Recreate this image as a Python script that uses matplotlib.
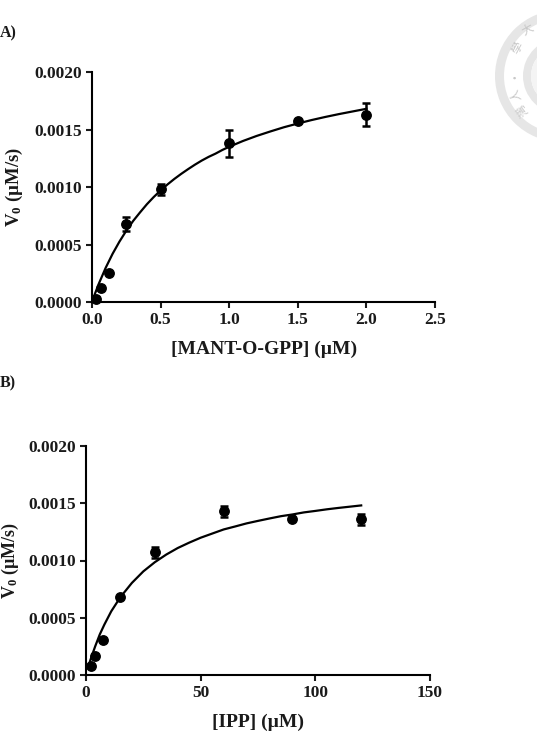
import matplotlib
matplotlib.use("Agg")
import matplotlib.pyplot as plt
from matplotlib.patches import Circle, Wedge

W, H = 537, 756
SERIF = "Liberation Serif"
plt.rcParams["font.family"] = [SERIF, "DejaVu Sans"]
plt.rcParams["font.weight"] = "bold"
plt.rcParams["mathtext.fontset"] = "custom"
plt.rcParams["mathtext.rm"] = "Liberation Serif:bold"
plt.rcParams["mathtext.default"] = "rm"

# Panel A: MANT-O-GPP titration
a_x = [0.03, 0.0625, 0.125, 0.25, 0.5, 1.0, 1.5, 2.0]
a_y = [0.00003, 0.00012, 0.000255, 0.00068, 0.00098, 0.00138, 0.00157, 0.00163]
a_err = [0.00001, 0.00001, 0.00001, 0.00006, 0.00005, 0.00012, 0.00001, 0.00010]
a_fit_x = [0.0, 0.02, 0.05, 0.1, 0.15, 0.2, 0.25, 0.3, 0.35, 0.4, 0.45, 0.5, 0.55, 0.6,
           0.65, 0.7, 0.75, 0.8, 0.85, 0.9, 0.95, 1.0, 1.1, 1.2, 1.3, 1.4, 1.5, 1.6,
           1.7, 1.8, 1.9, 2.0]
a_fit_y = [0.0, 0.000067, 0.00016, 0.000298, 0.000419, 0.000525, 0.00062, 0.000705,
           0.000779, 0.00085, 0.000913, 0.00097, 0.001022, 0.00107, 0.001114, 0.001155,
           0.001194, 0.00123, 0.001262, 0.00129, 0.001322, 0.00135, 0.0014, 0.001444,
           0.001483, 0.00152, 0.001552, 0.001582, 0.001609, 0.001634, 0.001657, 0.00168]
a_xticks = [0.0, 0.5, 1.0, 1.5, 2.0, 2.5]
a_xticklabels = ["0.0", "0.5", "1.0", "1.5", "2.0", "2.5"]

# Panel B: IPP titration
b_x = [2, 4, 7.5, 15, 30, 60, 90, 120]
b_y = [0.00008, 0.00017, 0.00031, 0.00068, 0.00107, 0.00143, 0.001365, 0.00136]
b_err = [0.00001, 0.00001, 0.00001, 0.00001, 0.00005, 0.00005, 0.00001, 0.00005]
b_fit_x = [1, 2, 4, 6, 8, 11, 15, 20, 25, 30, 35, 40, 45, 50, 55, 60, 65, 70, 75, 80,
           85, 90, 95, 100, 105, 110, 115, 120]
b_fit_y = [0.000071, 0.000136, 0.00025, 0.000354, 0.00044, 0.000556, 0.00068, 0.000804,
           0.000905, 0.000985, 0.001052, 0.001109, 0.001156, 0.001199, 0.001235, 0.001271,
           0.001297, 0.001324, 0.001346, 0.001367, 0.001387, 0.001402, 0.00142, 0.001433,
           0.001447, 0.001459, 0.00147, 0.001481]
b_xticks = [0, 50, 100, 150]
b_xticklabels = ["0", "50", "100", "150"]

y_ticks = [0.0, 0.0005, 0.0010, 0.0015, 0.0020]
y_ticklabels = ["0.0000", "0.0005", "0.0010", "0.0015", "0.0020"]

INK = "#1a1a1a"
fig = plt.figure(figsize=(W / 100, H / 100), dpi=100, facecolor="white")


def axes_px(left, right, top, bottom):
    return fig.add_axes([left / W, 1 - bottom / H, (right - left) / W, (bottom - top) / H])


def label_px(x, y, s, **kw):
    kw.setdefault("color", INK)
    kw.setdefault("ha", "center")
    kw.setdefault("va", "center")
    return fig.text(x / W, 1 - y / H, s, **kw)


def draw_panel(ax, x, y, err, fit_x, fit_y, xmax, xticks, xticklabels):
    ax.plot(fit_x, fit_y, color="black", lw=1.6, clip_on=False, zorder=2)
    ax.errorbar(x, y, yerr=err, fmt="o", color="black", ms=6.8, elinewidth=1.8,
                capsize=3.0, capthick=1.8, clip_on=False, zorder=3)
    ax.set_xlim(0, xmax)
    ax.set_ylim(0, 0.0020)
    ax.set_xticks(xticks, xticklabels)
    ax.set_yticks(y_ticks, y_ticklabels)
    ax.spines[["top", "right"]].set_visible(False)
    ax.spines[["left", "bottom"]].set_linewidth(1.5)
    ax.tick_params(length=4.5, width=1.5, labelsize=12.5, pad=3, colors=INK)


ax_a = axes_px(92, 435, 72, 302)
draw_panel(ax_a, a_x, a_y, a_err, a_fit_x, a_fit_y, 2.5, a_xticks, a_xticklabels)
ax_b = axes_px(86, 430, 446, 675)
draw_panel(ax_b, b_x, b_y, b_err, b_fit_x, b_fit_y, 150, b_xticks, b_xticklabels)

label_px(0, 33, "A)", ha="left", fontsize=11.5)
label_px(0, 383, "B)", ha="left", fontsize=11.5)
label_px(264, 349, "[MANT-O-GPP] (µM)", fontsize=14)
label_px(258, 722, "[IPP] (µM)", fontsize=14)
label_px(14, 187, "V$_0$ (µM/s)", rotation=90, fontsize=13.5)
label_px(10, 560, "V$_0$ (µM/s)", rotation=90, fontsize=13)

# Pale university seal running off the right edge
seal = fig.add_axes([0, 0, 1, 1], zorder=-1)
seal.set_xlim(0, W)
seal.set_ylim(H, 0)
seal.axis("off")
cx, cy = 561, 76
seal.add_patch(Wedge((cx, cy), 66, 0, 360, width=9, color="#e6e6e6", lw=0))
seal.add_patch(Wedge((cx, cy), 38, 0, 360, width=8, color="#e6e6e6", lw=0))
seal.add_patch(Circle((cx, cy), 30, color="#f4f4f4", lw=0))
seal_family = ["Noto Sans CJK TC", "DejaVu Sans"]
for gx, gy, ch, rot in [(528, 30, "大", 30), (517, 48, "學", 62), (512, 73, "·", 90),
                        (515, 95, "人", 110), (523, 110, "灣", 125)]:
    seal.text(gx, gy, ch, color="#c8c8c8", fontsize=8.5, rotation=rot, family=seal_family,
              weight="normal", ha="center", va="center")

fig.savefig("out.png", dpi=100)
